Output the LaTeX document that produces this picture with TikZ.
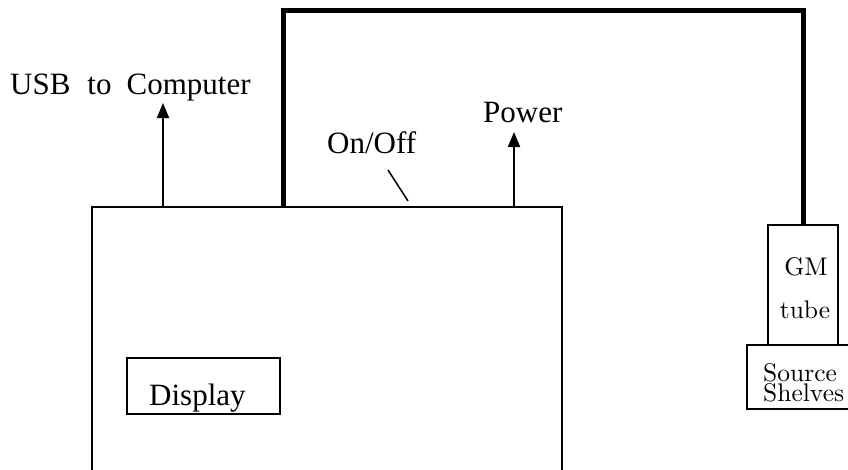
\documentclass[tikz,border=0pt]{standalone}
\usepackage{fontspec}
\usepackage{graphicx}
\newfontfamily\timesfont{Liberation Serif}
\usetikzlibrary{arrows.meta}

% small labels are set at 10pt and blown up, so they keep the 10pt design
\newcommand{\tubefont}[1]{\scalebox{2.55}{\fontsize{10pt}{8pt}\selectfont #1}}

\tikzset{
  maintext/.style={font=\timesfont\fontsize{31pt}{36pt}\selectfont, inner sep=0pt},
  smalltext/.style={inner sep=0pt},
  panel/.style={draw, line width=1.4pt, inner sep=0pt},
  cable/.style={line width=5pt},
  lead/.style={line width=1.8pt, -{Triangle[length=15pt, width=12pt]}}
}

\begin{document}
\begin{tikzpicture}[x=1pt, y=-1pt]
  \useasboundingbox (0,0) rectangle (848,469);

  % Counter unit and its display
  \node[panel, line width=2pt, minimum width=470pt, minimum height=280pt] (unit) at (327,347) {};
  \node[panel, line width=1.8pt, minimum width=153pt, minimum height=56pt] (display) at (203.5,386) {};
  \node[maintext, anchor=base west] (displaytext) at (149,405) {Display};

  % GM tube on the source shelves
  \node[panel, minimum width=70pt, minimum height=120pt] (tube) at (803,285) {};
  \node[panel, minimum width=106pt, minimum height=64pt] (shelf) at (800,377) {};
  \node[smalltext, anchor=base] (gm) at (806,275) {\tubefont{GM}};
  \node[smalltext, anchor=base] (tubetext) at (805,318) {\tubefont{tube}};
  \node[smalltext, anchor=north west] (shelftext) at (763,363)
    {\tubefont{\vbox{\hbox{Source}\hbox{Shelves}}}};

  % Cable from the unit to the tube
  \coordinate (plug) at (283,207);
  \coordinate (bend) at (803,10);
  \draw[cable] (plug) |- (bend) -- (tube.north);

  % USB and power leads
  \coordinate (usbend) at (163,103);
  \coordinate (powerend) at (514,132);
  \draw[lead] (unit.north -| usbend) -- (usbend);
  \draw[lead] (unit.north -| powerend) -- (powerend);
  \node[maintext, anchor=base west] (usb) at (10,94) {USB\hspace{17pt}to\hspace{15pt}Computer};
  \node[maintext, anchor=base west] (power) at (483,122) {Power};

  % Switch
  \draw[line width=1.5pt] (388,170) -- (408,201);
  \node[maintext, anchor=base west] (onoff) at (327,153) {On/Off};

\end{tikzpicture}
\end{document}
